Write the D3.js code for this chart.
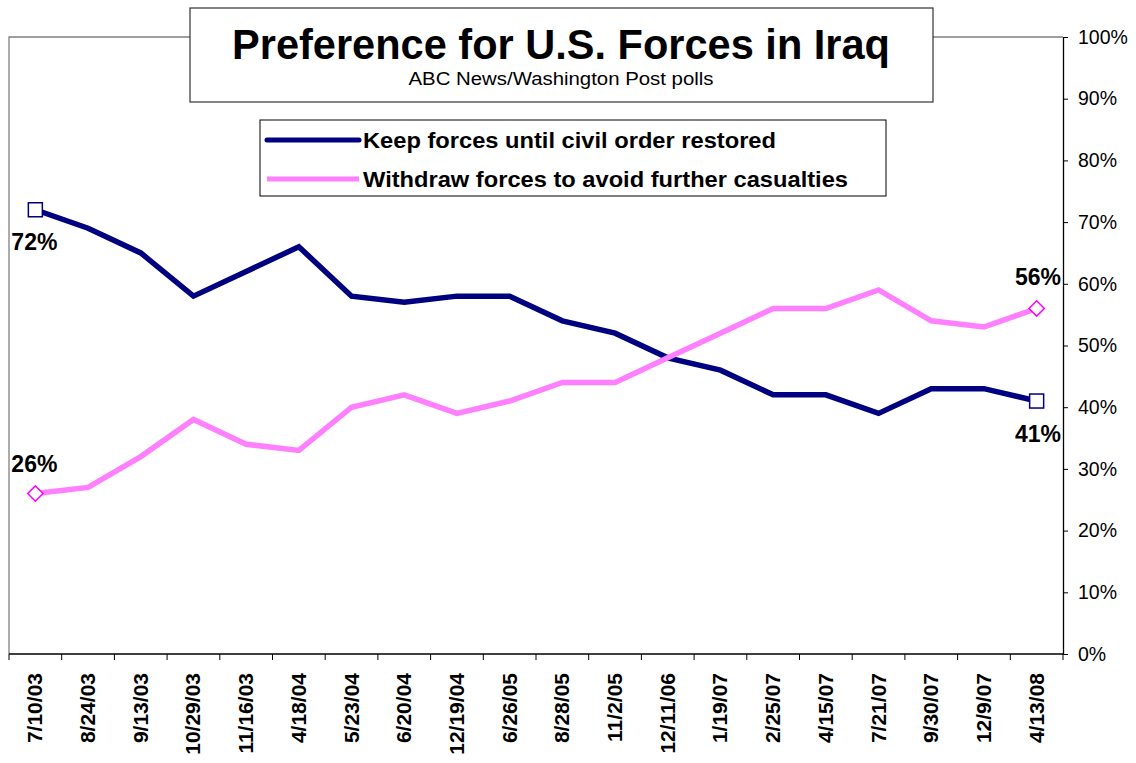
<!DOCTYPE html>
<html>
<head>
<meta charset="utf-8">
<script src="https://cdn.jsdelivr.net/npm/d3@7"></script>
<style>
  body { margin: 0; background: #fff; }
  svg { display: block; font-family: "Liberation Sans", Arial, sans-serif; }
</style>
</head>
<body>
<svg id="chart" width="1136" height="763"></svg>
<script>
// poll dates (category axis) and the two series, percent
const DATES = ["7/10/03", "8/24/03", "9/13/03", "10/29/03", "11/16/03", "4/18/04", "5/23/04", "6/20/04",
  "12/19/04", "6/26/05", "8/28/05", "11/2/05", "12/11/06", "1/19/07", "2/25/07", "4/15/07", "7/21/07",
  "9/30/07", "12/9/07", "4/13/08"];
const KEEP = [72, 69, 65, 58, 62, 66, 58, 57, 58, 58, 54, 52, 48, 46, 42, 42, 39, 43, 43, 41];
const WITHDRAW = [26, 27, 32, 38, 34, 33, 40, 42, 39, 41, 44, 44, 48, 52, 56, 56, 59, 54, 53, 56];
const Y_TICKS = [0, 10, 20, 30, 40, 50, 60, 70, 80, 90, 100];

const SERIES = [
  { key: "keep", label: "Keep forces until civil order restored", values: KEEP, color: "#000080", len: 413 },
  { key: "withdraw", label: "Withdraw forces to avoid further casualties", values: WITHDRAW, color: "#FF80FF", len: 485 },
];

const svg = d3.select("#chart");
const L = 9, R = 1063, T = 37, B = 654;

const x = d3.scaleBand().domain(DATES).range([L, R]);
const y = d3.scaleLinear().domain([0, 100]).range([B, T]);
const cx = d => x(d) + x.bandwidth() / 2;

// plot frame: gray left + top (top broken by title box)
svg.append("path").attr("d", `M${L},${B} V${T} H190 M933,${T} H${R}`)
  .attr("fill", "none").attr("stroke", "#808080").attr("stroke-width", 1.3);

// right axis
const gy = svg.append("g").attr("transform", `translate(${R},0)`)
  .call(d3.axisRight(y).tickValues(Y_TICKS).tickFormat(d => d + "%").tickSize(5).tickSizeOuter(0).tickPadding(10));
gy.select(".domain").attr("stroke", "#000").attr("stroke-width", 1.3);
gy.selectAll(".tick line").attr("stroke", "#000");
gy.selectAll("text").attr("font-size", 19.5).attr("fill", "#000").attr("font-family", "Liberation Sans, Arial, sans-serif");

// bottom axis: ticks at band boundaries
svg.append("line").attr("x1", L).attr("x2", R).attr("y1", B).attr("y2", B).attr("stroke", "#000").attr("stroke-width", 1.3);
svg.selectAll("line.xt").data(DATES.concat(["end"])).join("line").attr("class", "xt")
  .attr("x1", (d, i) => i < DATES.length ? x(d) : R).attr("x2", (d, i) => i < DATES.length ? x(d) : R)
  .attr("y1", B).attr("y2", B + 6).attr("stroke", "#000");
svg.selectAll("text.xl").data(DATES).join("text").attr("class", "xl")
  .attr("transform", d => `translate(${cx(d) + 7},${673}) rotate(-90)`)
  .attr("text-anchor", "end").attr("font-size", 21).attr("font-weight", "bold").text(d => d);

// lines
const line = d3.line().x((v, i) => cx(DATES[i])).y(v => y(v));
SERIES.forEach(s => {
  svg.append("path").datum(s.values).attr("d", line)
    .attr("fill", "none").attr("stroke", s.color).attr("stroke-width", 5.5).attr("stroke-linejoin", "miter");
});

// end-point markers
const ends = [0, DATES.length - 1];
ends.forEach(i => {
  svg.append("rect").attr("x", cx(DATES[i]) - 7).attr("y", y(KEEP[i]) - 7).attr("width", 14).attr("height", 14)
    .attr("fill", "#fff").attr("stroke", "#000080").attr("stroke-width", 1.5);
  svg.append("path").attr("d", d3.symbol().type(d3.symbolDiamond2).size(150)())
    .attr("transform", `translate(${cx(DATES[i])},${y(WITHDRAW[i])})`)
    .attr("fill", "#fff").attr("stroke", "#FF00FF").attr("stroke-width", 1.5);
});

// data labels
const labels = [
  { t: KEEP[0] + "%", x: cx(DATES[0]) - 24, y: y(KEEP[0]) + 40, anchor: "start" },
  { t: WITHDRAW[0] + "%", x: cx(DATES[0]) - 24, y: y(WITHDRAW[0]) - 22, anchor: "start" },
  { t: WITHDRAW[19] + "%", x: R - 2, y: y(WITHDRAW[19]) - 23, anchor: "end" },
  { t: KEEP[19] + "%", x: R - 2, y: y(KEEP[19]) + 41, anchor: "end" },
];
svg.selectAll("text.dl").data(labels).join("text").attr("class", "dl")
  .attr("x", d => d.x).attr("y", d => d.y).attr("text-anchor", d => d.anchor)
  .attr("font-size", 23).attr("font-weight", "bold").text(d => d.t);

// title box
svg.append("rect").attr("x", 190).attr("y", 8).attr("width", 743).attr("height", 94)
  .attr("fill", "#fff").attr("stroke", "#333").attr("stroke-width", 1.2);
svg.append("text").attr("x", 561).attr("y", 59).attr("text-anchor", "middle")
  .attr("font-size", 43).attr("font-weight", "bold")
  .attr("textLength", 658).attr("lengthAdjust", "spacingAndGlyphs").text("Preference for U.S. Forces in Iraq");
svg.append("text").attr("x", 561).attr("y", 85).attr("text-anchor", "middle")
  .attr("font-size", 17.5).attr("textLength", 305).attr("lengthAdjust", "spacingAndGlyphs")
  .text("ABC News/Washington Post polls");

// legend
svg.append("rect").attr("x", 260).attr("y", 120).attr("width", 626).attr("height", 76)
  .attr("fill", "#fff").attr("stroke", "#000").attr("stroke-width", 1);
SERIES.forEach((s, i) => {
  const ly = 140 + i * 39;
  svg.append("line").attr("x1", 267).attr("x2", 359).attr("y1", ly).attr("y2", ly)
    .attr("stroke", s.color).attr("stroke-width", 5).attr("stroke-linecap", s.key === "keep" ? "round" : "butt");
  svg.append("text").attr("x", 363).attr("y", ly + 8).attr("font-size", 22.5).attr("font-weight", "bold")
    .attr("textLength", s.len).attr("lengthAdjust", "spacingAndGlyphs").text(s.label);
});
</script>
</body>
</html>
